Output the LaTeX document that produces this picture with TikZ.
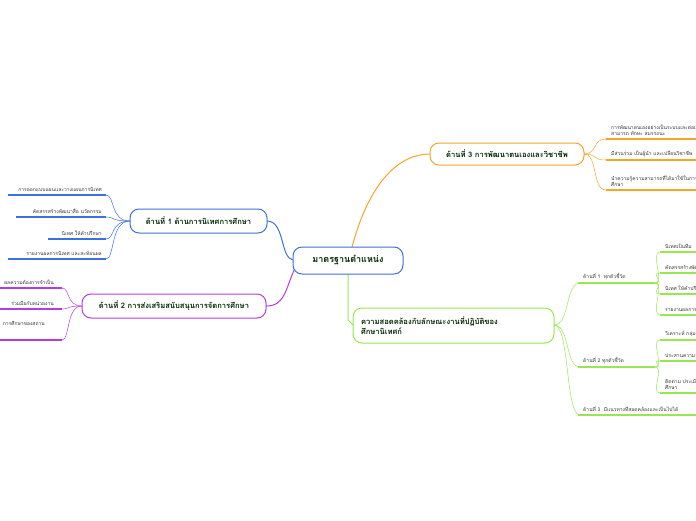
\documentclass[tikz,border=0pt]{standalone}
\usepackage{fontspec}
\setmainfont[Script=Thai]{Loma}
\begin{document}
\begin{tikzpicture}[x=1pt,y=-1pt,
  bx/.style={draw=#1,line width=1pt,rounded corners=9pt,fill=white,text=black!85!green,font=\fontsize{7.6}{10}\selectfont\bfseries,inner sep=4pt},
  lf/.style={font=\fontsize{5}{6.5}\selectfont,text=black!80,inner sep=1pt},
  ul/.style={draw=#1,line width=1.6pt},
  cn/.style={draw=#1,line width=0.6pt}]
\definecolor{cb}{HTML}{3D6FE0}\definecolor{cp}{HTML}{B43CE6}
\definecolor{co}{HTML}{F5A62A}\definecolor{cg}{HTML}{98E650}
\useasboundingbox (0,0) rectangle (696,520);
\clip (0,0) rectangle (696,520);
% connectors from center
\draw[cb,line width=1pt] (293,260) .. controls (280,258) and (285,221) .. (267,221);
\draw[cp,line width=1pt] (295,268) .. controls (285,290) and (285,306) .. (266,306);
\draw[co,line width=1pt] (352,247) .. controls (370,180) and (400,154) .. (430,154);
\draw[cg,line width=1pt] (348,274) -- (348,320) -- (353,325);
% center
\node[bx=cb,minimum width=110pt,minimum height=27pt,font=\fontsize{9}{11}\selectfont\bfseries] (c) at (348,260.5) {มาตรฐานตำแหน่ง};
% branch 1
\node[bx=cb,minimum width=137pt,minimum height=24pt] (b1) at (198.5,221) {ด้านที่ 1 ด้านการนิเทศการศึกษา};
\foreach \t/\y/\s in {การออกแบบแผนและวางแผนการนิเทศ/195/8,คัดสรรสร้างพัฒนาสื่อ นวัตกรรม/217/16,นิเทศ ให้คำปรึกษา/239/48,รายงานผลการนิเทศ และสะท้อนผล/259/8}{
  \draw[ul=cb] (\s,\y) -- (106,\y);
  \node[lf,anchor=south east] at (103,\y-2) {\t};
  \draw[cb,line width=0.5pt] (106,\y) .. controls (115,\y) and (110,221) .. (130,221);}
% branch 2
\node[bx=cp,minimum width=184pt,minimum height=24pt] (b2) at (174,306) {ด้านที่ 2 การส่งเสริมสนับสนุนการจัดการศึกษา};
\foreach \y in {288,309,340}{
  \draw[ul=cp] (0,\y) -- (62,\y);
  \draw[cp,line width=0.5pt] (62,\y) .. controls (70,\y) and (66,306) .. (82,306);}
\node[lf,anchor=south east] at (55,286) {ผลความต้องการจำเป็น};
\node[lf,anchor=south east] at (55,307) {ร่วมมือกับหน่วยงาน};
\node[lf,anchor=south east] at (46,327) {การศึกษาของสถาน};
% branch 3
\node[bx=co,minimum width=154pt,minimum height=22pt] (b3) at (507,154) {ด้านที่ 3 การพัฒนาตนเองและวิชาชีพ};
\foreach \y in {139,160,190}{
  \draw[ul=co] (606,\y) -- (700,\y);
  \draw[co,line width=0.5pt] (584,154) .. controls (598,154) and (592,\y) .. (606,\y);}
\node[lf,anchor=south west,align=left] at (610,137) {การพัฒนาตนเองอย่างเป็นระบบและต่อเนื่อง\\สามารถ ทักษะ สมรรถนะ};
\node[lf,anchor=south west] at (610,158) {มีส่วนร่วม เป็นผู้นำ และเปลี่ยนวิชาชีพ};
\node[lf,anchor=south west,align=left] at (610,188) {นำความรู้ความสามารถที่ได้มาใช้ในการพัฒนา\\ศึกษา};
% branch 4
\node[bx=cg,minimum width=201pt,minimum height=35pt,align=left,text width=185pt] (b4) at (453.5,325.5) {ความสอดคล้องกับลักษณะงานที่ปฏิบัติของ\\ศึกษานิเทศก์};
\foreach \y in {283,367,415}{
  \draw[cg,line width=0.5pt] (554,325) .. controls (570,325) and (565,\y) .. (580,\y);}
\draw[ul=cg] (578,283) -- (655,283);
\draw[ul=cg] (578,367) -- (655,367);
\draw[ul=cg] (578,415) -- (700,415);
\node[lf,anchor=south west] at (582,281) {ด้านที่ 1~~ทุกตัวชี้วัด};
\node[lf,anchor=south west] at (582,365) {ด้านที่ 2 ทุกตัวชี้วัด};
\node[lf,anchor=south west] at (582,413) {ด้านที่ 3~~มีแนวทางที่สอดคล้องและเป็นไปได้};
\foreach \t/\y in {นิเทศเป็นทีม/252,คัดสรรสร้างพัฒนา/273,นิเทศ ให้คำปรึกษา/294,รายงานผลการนิเทศ/315}{
  \draw[ul=cg] (660,\y) -- (700,\y);
  \node[lf,anchor=south west] at (664,\y-2) {\t};
  \draw[cg,line width=0.5pt] (655,283) .. controls (665,283) and (650,\y) .. (660,\y);}
\foreach \y in {340,361,393}{
  \draw[ul=cg] (660,\y) -- (700,\y);
  \draw[cg,line width=0.5pt] (655,367) .. controls (665,367) and (650,\y) .. (660,\y);}
\node[lf,anchor=south west] at (664,338) {วิเคราะห์ กลุ่มเป้าหมาย};
\node[lf,anchor=south west] at (664,359) {ประสานความร่วมมือ};
\node[lf,anchor=south west,align=left] at (664,391) {ติดตาม ประเมินผล\\ศึกษา};
\end{tikzpicture}
\end{document}
